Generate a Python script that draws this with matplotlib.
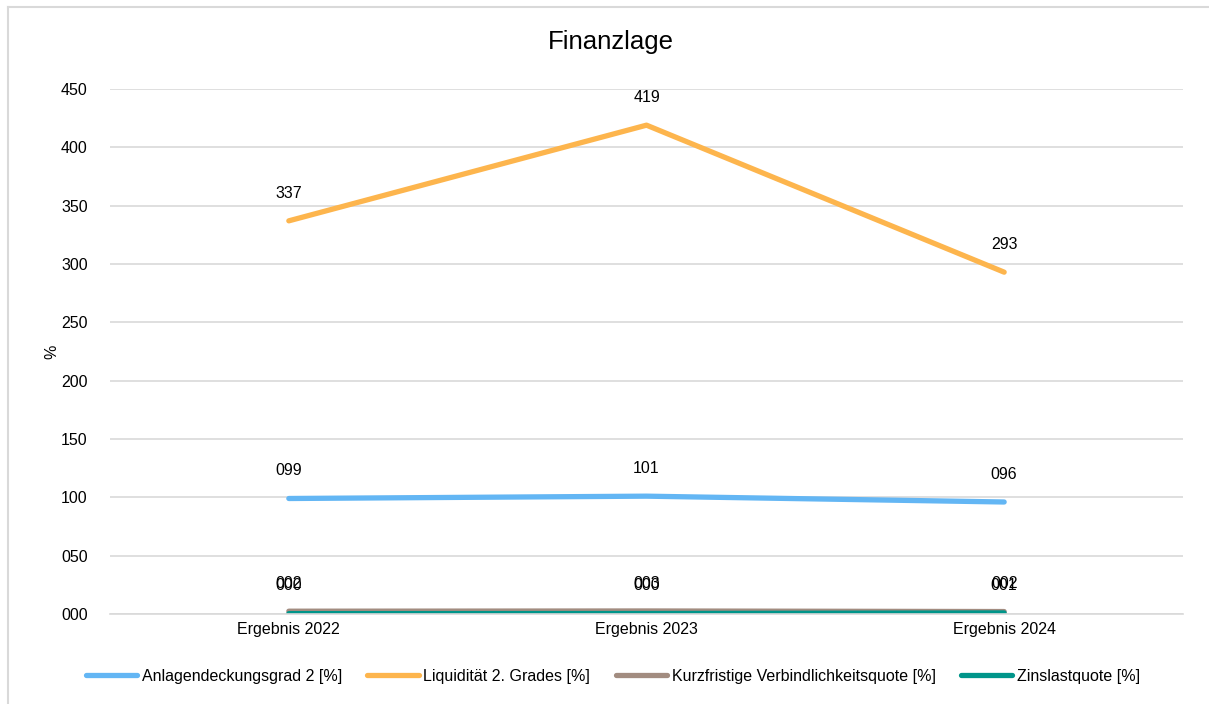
import matplotlib.pyplot as plt
from matplotlib.lines import Line2D

plt.rcParams['font.family'] = ['Liberation Sans', 'DejaVu Sans']

categories = ['Ergebnis 2022', 'Ergebnis 2023', 'Ergebnis 2024']
anlagendeckung = [99, 101, 96]
liquiditaet = [337, 419, 293]
kurzfristig = [2.4, 2.6, 2.1]
zinslast = [0.3, 0.4, 0.9]
yticks = [0, 50, 100, 150, 200, 250, 300, 350, 400, 450]

series = [
    ('Anlagendeckungsgrad 2 [%]', anlagendeckung, '#63B6F4'),
    ('Liquidität 2. Grades [%]', liquiditaet, '#FDB54D'),
    ('Kurzfristige Verbindlichkeitsquote [%]', kurzfristig, '#A28C80'),
    ('Zinslastquote [%]', zinslast, '#00958A'),
]


def main():
    fig = plt.figure(figsize=(12.09, 7.04), dpi=100)
    ax = fig.add_axes([110 / 1209, 90 / 704, 1073 / 1209, 525 / 704])

    # Rahmen des Diagramms (nur links und oben sichtbar)
    left = 7.5 / 1209
    top = 1 - 6.5 / 704
    fig.lines.append(Line2D([left, left], [0, top], transform=fig.transFigure,
                            color='#D9D9D9', linewidth=1.5))
    fig.lines.append(Line2D([left, 1], [top, top], transform=fig.transFigure,
                            color='#D9D9D9', linewidth=1.5))

    x = list(range(len(categories)))
    for name, values, color in series:
        ax.plot(x, values, color=color, linewidth=3.8, label=name,
                solid_capstyle='round')
        for xi, v in zip(x, values):
            ax.annotate(f'{v:03.0f}', (xi, v), xytext=(0, 20),
                        textcoords='offset points', ha='center', va='center',
                        fontsize=11.5, color='#000000')

    ax.set_xlim(-0.5, 2.5)
    ax.set_ylim(0, 450)
    ax.set_yticks(yticks)
    ax.set_yticklabels([f'{t:03d}' for t in yticks])
    ax.set_xticks(x)
    ax.set_xticklabels(categories)
    ax.tick_params(axis='both', length=0, labelsize=11.5, colors='#000000')
    ax.tick_params(axis='y', pad=16)
    ax.tick_params(axis='x', pad=6)
    ax.grid(axis='y', color='#D9D9D9', linewidth=1.2)
    ax.set_axisbelow(True)
    for s in ['left', 'right', 'top']:
        ax.spines[s].set_visible(False)
    ax.spines['bottom'].set_color('#D9D9D9')
    ax.spines['bottom'].set_linewidth(1.2)

    ax.set_ylabel('%', fontsize=11.5, labelpad=1)
    fig.text(0.505, 1 - 42 / 704, 'Finanzlage', ha='center', va='center',
             fontsize=18.5)

    fig.legend(loc='center', bbox_to_anchor=(0.507, 1 - 676 / 704), ncol=4,
               frameon=False, fontsize=11.5, handlelength=3.2,
               handletextpad=0.3, columnspacing=1.6)

    fig.savefig('out.png', dpi=100)


if __name__ == '__main__':
    main()
